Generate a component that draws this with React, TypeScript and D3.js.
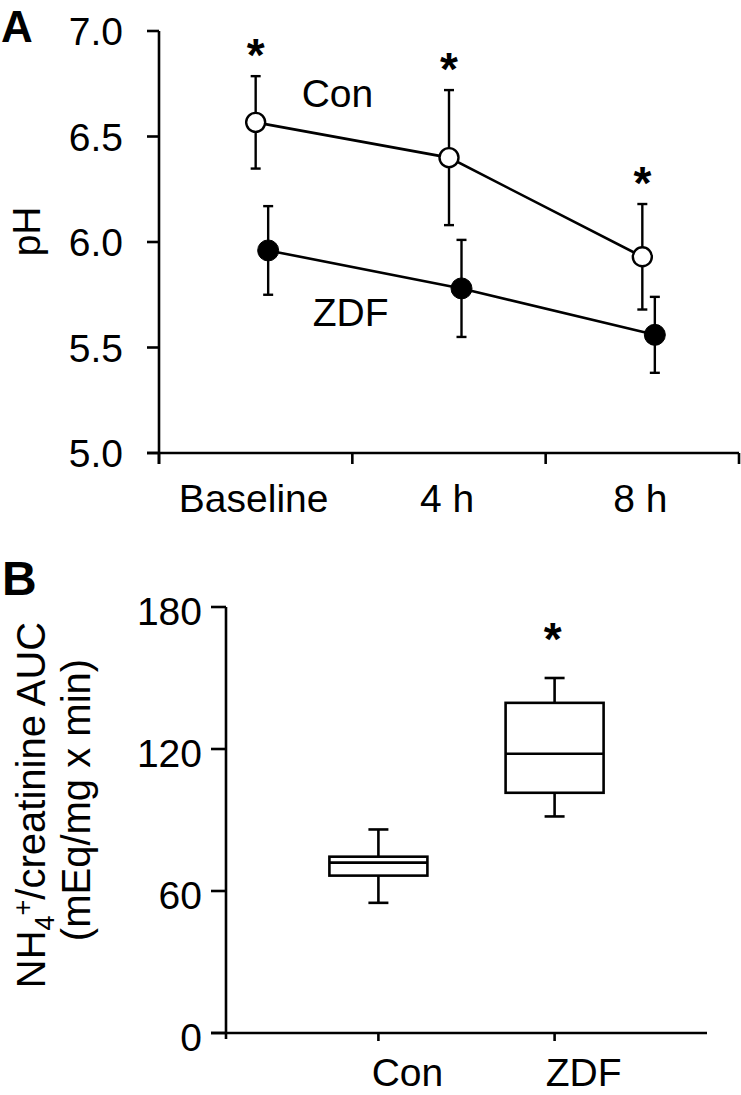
import React from "react";
import * as d3 from "d3";

// ---------- Panel A data (pH) ----------
const timeCategories = ["Baseline", "4 h", "8 h"];
const conMean = [6.567, 6.4, 5.93];
const conErr = [0.219, 0.32, 0.25];
const zdfMean = [5.96, 5.78, 5.56];
const zdfErr = [0.21, 0.23, 0.18];
const conSignificant = [true, true, true];
const phTicks = [5.0, 5.5, 6.0, 6.5, 7.0];

// ---------- Panel B data (NH4+/creatinine AUC) ----------
const groups = ["Con", "ZDF"];
const whiskerLow = [55, 91.5];
const q1 = [66.5, 101.5];
const medianVals = [72, 118];
const q3 = [74.5, 139.5];
const whiskerHigh = [86, 150];
const groupSignificant = [false, true];
const aucTicks = [0, 60, 120, 180];

const FONT = "'Liberation Sans', Arial, Helvetica, sans-serif";

export default function App() {
  const W = 741;
  const H = 1095;

  // Panel A scales
  const xA = d3.scaleBand<string>().domain(timeCategories).range([159, 739]).paddingInner(0).paddingOuter(0);
  const yA = d3.scaleLinear().domain([5, 7]).range([453, 31]);
  const zdfOffset = 12.5;
  const cx = (c: string) => (xA(c) as number) + xA.bandwidth() / 2;

  const conPts = timeCategories.map((c, i) => [cx(c), yA(conMean[i])] as [number, number]);
  const zdfPts = timeCategories.map((c, i) => [cx(c) + zdfOffset, yA(zdfMean[i])] as [number, number]);
  const line = d3.line();

  // Panel B scales
  const xB = d3.scalePoint<string>().domain(groups).range([226, 707]).padding(0.865);
  const yB = d3.scaleLinear().domain([0, 180]).range([1033, 607]);
  const boxHalf = 49;
  const capHalf = 10;

  const sw = 2.6;
  const errCap = 5;
  const fs = 39;
  const starFs = 46;

  const errBar = (x: number, m: number, e: number, key: string) => (
    <g key={key} stroke="#000" strokeWidth={2.4}>
      <line x1={x} x2={x} y1={yA(m + e)} y2={yA(m - e)} />
      <line x1={x - errCap} x2={x + errCap} y1={yA(m + e)} y2={yA(m + e)} />
      <line x1={x - errCap} x2={x + errCap} y1={yA(m - e)} y2={yA(m - e)} />
    </g>
  );

  const xBandEdges = [...timeCategories.map((c) => xA(c) as number), xA.range()[1]];

  return (
    <svg
      width={W}
      height={H}
      viewBox={`0 0 ${W} ${H}`}
      style={{ position: "absolute", left: 0, top: 0, background: "#fff" }}
      fontFamily={FONT}
    >
      <rect x={0} y={0} width={W} height={H} fill="#fff" />

      {/* ================= Panel A ================= */}
      <text x={1} y={42} fontSize={44} fontWeight="bold">A</text>

      {/* y axis */}
      <line x1={xA.range()[0]} x2={xA.range()[0]} y1={yA(7)} y2={yA(5) + 11} stroke="#000" strokeWidth={sw} />
      {phTicks.map((t) => (
        <g key={"pt" + t}>
          <line x1={xA.range()[0] - 12} x2={xA.range()[0]} y1={yA(t)} y2={yA(t)} stroke="#000" strokeWidth={sw} />
          <text x={123} y={yA(t)} dy="0.36em" textAnchor="end" fontSize={fs}>{t.toFixed(1)}</text>
        </g>
      ))}
      <text transform={`translate(40,${yA(6.05)}) rotate(-90)`} textAnchor="middle" fontSize={fs}>pH</text>

      {/* x axis */}
      <line x1={xA.range()[0] - 12} x2={xA.range()[1]} y1={yA(5)} y2={yA(5)} stroke="#000" strokeWidth={sw} />
      {xBandEdges.map((e, i) => (
        <line key={"xe" + i} x1={e} x2={e} y1={yA(5)} y2={yA(5) + 11} stroke="#000" strokeWidth={sw} />
      ))}
      {timeCategories.map((c) => (
        <text key={"xl" + c} x={cx(c) - 2} y={512} textAnchor="middle" fontSize={fs}>{c}</text>
      ))}

      {/* lines */}
      <path d={line(conPts) as string} fill="none" stroke="#000" strokeWidth={2.6} />
      <path d={line(zdfPts) as string} fill="none" stroke="#000" strokeWidth={2.6} />

      {/* error bars */}
      {timeCategories.map((c, i) => errBar(cx(c), conMean[i], conErr[i], "ce" + i))}
      {timeCategories.map((c, i) => errBar(cx(c) + zdfOffset, zdfMean[i], zdfErr[i], "ze" + i))}

      {/* points */}
      {conPts.map((p, i) => (
        <circle key={"cp" + i} cx={p[0]} cy={p[1]} r={9.5} fill="#fff" stroke="#000" strokeWidth={2.4} />
      ))}
      {zdfPts.map((p, i) => (
        <circle key={"zp" + i} cx={p[0]} cy={p[1]} r={10.5} fill="#000" stroke="#000" strokeWidth={1} />
      ))}

      {/* significance stars */}
      {timeCategories.map((c, i) =>
        conSignificant[i] ? (
          <text key={"st" + i} x={cx(c)} y={yA(conMean[i] + conErr[i]) - 32 + 0.58 * starFs} textAnchor="middle" fontSize={starFs} fontWeight="bold">*</text>
        ) : null
      )}

      {/* series labels */}
      <text x={cx("Baseline") + 46} y={yA(6.64)} fontSize={fs}>Con</text>
      <text x={cx("Baseline") + 57} y={yA(5.6)} fontSize={fs}>ZDF</text>

      {/* ================= Panel B ================= */}
      <text x={2} y={595} fontSize={48} fontWeight="bold">B</text>

      {/* y axis */}
      <line x1={xB.range()[0]} x2={xB.range()[0]} y1={yB(180)} y2={yB(0) + 6} stroke="#000" strokeWidth={sw} />
      {aucTicks.map((t) => (
        <g key={"bt" + t}>
          <line x1={xB.range()[0] - 15} x2={xB.range()[0]} y1={yB(t)} y2={yB(t)} stroke="#000" strokeWidth={sw} />
          <text x={202} y={yB(t) + 4} dy="0.36em" textAnchor="end" fontSize={fs}>{t}</text>
        </g>
      ))}
      <text transform={`translate(45,${805}) rotate(-90)`} textAnchor="middle" fontSize={40}>
        NH<tspan fontSize={27} dy={9}>4</tspan><tspan fontSize={27} dy={-22}>+</tspan><tspan dy={13}>/creatinine AUC</tspan>
      </text>
      <text transform={`translate(90,${800}) rotate(-90)`} textAnchor="middle" fontSize={40}>(mEq/mg x min)</text>

      {/* x axis */}
      <line x1={xB.range()[0] - 15} x2={xB.range()[1]} y1={yB(0)} y2={yB(0)} stroke="#000" strokeWidth={sw} />
      {groups.map((g) => (
        <line key={"bx" + g} x1={xB(g) as number} x2={xB(g) as number} y1={yB(0)} y2={yB(0) + 8} stroke="#000" strokeWidth={sw} />
      ))}
      {groups.map((g) => (
        <text key={"bl" + g} x={(xB(g) as number) + 29} y={1086} textAnchor="middle" fontSize={fs}>{g}</text>
      ))}

      {/* boxes */}
      {groups.map((g, i) => {
        const x = xB(g) as number;
        return (
          <g key={"box" + g} stroke="#000" strokeWidth={2.6} fill="none">
            <line x1={x} x2={x} y1={yB(whiskerHigh[i])} y2={yB(q3[i])} />
            <line x1={x} x2={x} y1={yB(q1[i])} y2={yB(whiskerLow[i])} />
            <line x1={x - capHalf} x2={x + capHalf} y1={yB(whiskerHigh[i])} y2={yB(whiskerHigh[i])} />
            <line x1={x - capHalf} x2={x + capHalf} y1={yB(whiskerLow[i])} y2={yB(whiskerLow[i])} />
            <rect x={x - boxHalf} y={yB(q3[i])} width={boxHalf * 2} height={yB(q1[i]) - yB(q3[i])} fill="#fff" />
            <line x1={x - boxHalf} x2={x + boxHalf} y1={yB(medianVals[i])} y2={yB(medianVals[i])} />
          </g>
        );
      })}
      {groups.map((g, i) =>
        groupSignificant[i] ? (
          <text key={"bs" + g} x={(xB(g) as number) - 2} y={yB(whiskerHigh[i]) - 50 + 0.58 * starFs} textAnchor="middle" fontSize={starFs} fontWeight="bold">*</text>
        ) : null
      )}
    </svg>
  );
}
